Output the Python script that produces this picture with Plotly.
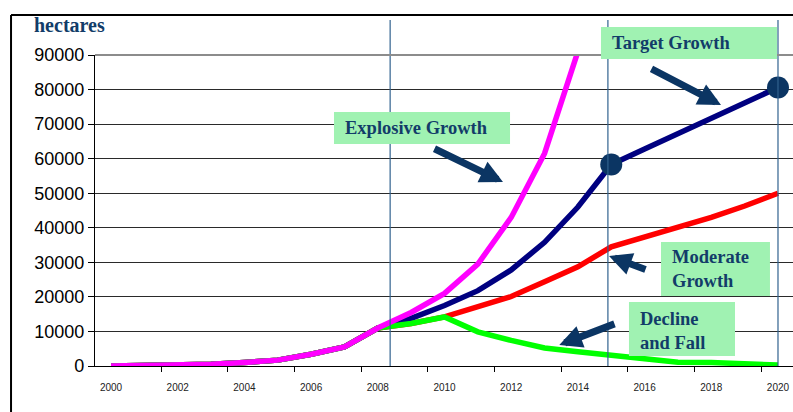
import plotly.graph_objects as go

# Planted area scenarios, 2000-2020 (hectares)
years = list(range(2000, 2021))
history = [0, 50, 150, 500, 1000, 1700, 3400, 5500, 11000]

explosive = history + [15500, 21000, 29500, 43000, 61500, 91000] + [None] * 6
target = history + [13800, 17500, 21800, 27800, 35800, 46000, 58300, 62800, 67200, 71600, 76000, 80600]
moderate = history + [12300, 14200, 17200, 20100, 24400, 28700, 34500, 37300, 40000, 43000, 46300, 50000]
decline = history + [12300, 14200, 9900, 7400, 5200, 4100, 3000, 1800, 1100, 1000, 500, 300]

# Milestones highlighted on the target path
milestone_years = [2015, 2020]
milestone_values = [target[years.index(y)] for y in milestone_years]

# Axis ticks
y_ticks = list(range(0, 90001, 10000))
x_label_years = list(range(2000, 2021, 2))
x_label_text = [str(y) for y in x_label_years]
x_tick_marks = [y - 0.5 for y in x_label_years]

# Reference years marked with vertical rules
rule_years = [2008.37, 2014.9, 2020.0]

NAVY_TEXT = "#123C69"
BOX_GREEN = "#A0F2B2"
SERIF = "Liberation Serif, Times New Roman, serif"
SANS = "Liberation Sans, Arial, sans-serif"

fig = go.Figure()

series = [
    ("Moderate Growth", moderate, "#FF0000"),
    ("Target Growth", target, "#000080"),
    ("Decline and Fall", decline, "#00FF00"),
    ("Explosive Growth", explosive, "#FF00FF"),
]
for name, vals, color in series:
    fig.add_trace(go.Scatter(
        x=years, y=vals, name=name, mode="lines",
        line=dict(color=color, width=5.5),
        connectgaps=False, showlegend=False, hoverinfo="skip",
    ))

fig.add_trace(go.Scatter(
    x=milestone_years, y=milestone_values, mode="markers",
    marker=dict(size=22, color="#0B3563"),
    showlegend=False, hoverinfo="skip", cliponaxis=False,
))

shapes = []
# vertical reference rules
for ry in rule_years:
    shapes.append(dict(type="line", xref="x", yref="paper", x0=ry, x1=ry,
                       y0=0, y1=1.1125, line=dict(color="#31628F", width=1.2),
                       layer="above"))
# top gridline in grey
shapes.append(dict(type="line", xref="paper", yref="paper", x0=0, x1=1,
                   y0=1, y1=1, line=dict(color="#8C8C8C", width=2), layer="above"))
# outer frame (top and left edges)
shapes.append(dict(type="line", xref="paper", yref="paper", x0=-0.1203, x1=1.01,
                   y0=1.1286, y1=1.1286, line=dict(color="black", width=2)))
shapes.append(dict(type="line", xref="paper", yref="paper", x0=-0.1203, x1=-0.1203,
                   y0=1.1286, y1=-0.2, line=dict(color="black", width=2)))

# callout boxes (paper coordinates)
boxes = [
    (0.3424, 0.5946, 0.7138, 0.8167),
    (0.7249, 0.9771, 0.9871, 1.0900),
    (0.8109, 0.9670, 0.2251, 0.3987),
    (0.7650, 0.9169, 0.0322, 0.2058),
]
for x0, x1, y0, y1 in boxes:
    shapes.append(dict(type="rect", xref="paper", yref="paper",
                       x0=x0, x1=x1, y0=y0, y1=y1,
                       fillcolor=BOX_GREEN, line=dict(width=0), layer="above"))

annotations = [
    dict(text="<b>hectares</b>", xref="paper", yref="paper", x=-0.0903, y=1.0965,
         xanchor="left", yanchor="middle", showarrow=False,
         font=dict(family=SERIF, size=20, color=NAVY_TEXT)),
]
labels = [
    ("<b>Explosive Growth</b>", 0.3553, 0.7653),
    ("<b>Target Growth</b>", 0.7378, 1.0386),
    ("<b>Moderate<br>Growth</b>", 0.8238, 0.3103),
    ("<b>Decline<br>and Fall</b>", 0.7779, 0.1141),
]
for txt, x, y in labels:
    annotations.append(dict(text=txt, xref="paper", yref="paper", x=x, y=y,
                            xanchor="left", yanchor="middle", align="left",
                            showarrow=False,
                            font=dict(family=SERIF, size=18.5, color=NAVY_TEXT)))

# arrows: (tail year, tail value, head year, head value)
arrows = [
    (2009.655, 63087, 2011.754, 53248),
    (2016.162, 86238, 2018.291, 75531),
    (2016.072, 27781, 2014.933, 31833),
    (2015.142, 12357, 2013.442, 6077),
]
for ax, ay, hx, hy in arrows:
    annotations.append(dict(text="", x=hx, y=hy, ax=ax, ay=ay,
                            xref="x", yref="y", axref="x", ayref="y",
                            showarrow=True, arrowhead=2, arrowsize=0.65,
                            arrowwidth=7, arrowcolor="#0B3563", standoff=0))

fig.update_layout(
    width=793, height=412,
    margin=dict(l=95, r=0, t=55, b=46),
    paper_bgcolor="white", plot_bgcolor="white",
    shapes=shapes, annotations=annotations,
    xaxis=dict(
        range=[1999.52, 2020.45],
        tickvals=x_label_years, ticktext=x_label_text, ticks="",
        tickfont=dict(family=SANS, size=10, color="#222222"),
        ticklabelstandoff=12,
        minor=dict(tickvals=x_tick_marks, ticks="outside", ticklen=5,
                   tickcolor="black", tickwidth=1, showgrid=False),
        showline=True, linecolor="black", linewidth=1.2,
        showgrid=False, zeroline=False,
    ),
    yaxis=dict(
        range=[0, 90000], tickvals=y_ticks, tickformat="d",
        tickfont=dict(family=SANS, size=18, color="black"),
        ticks="outside", ticklen=6, tickcolor="black",
        showline=True, linecolor="black", linewidth=1.2,
        showgrid=True, gridcolor="#2A2A2A", gridwidth=1,
        zeroline=False,
    ),
)

fig.write_html("out.html")
